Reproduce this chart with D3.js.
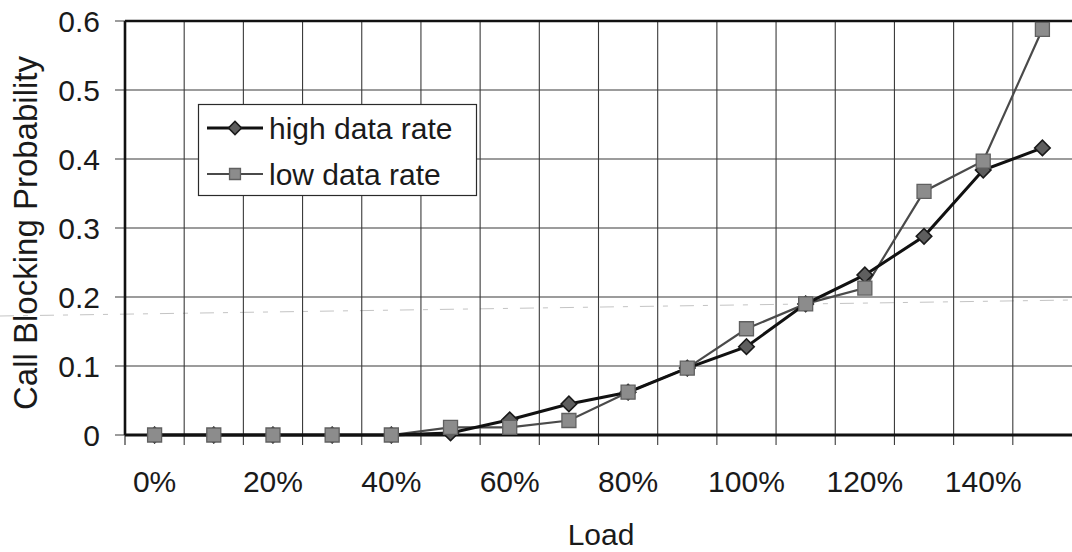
<!DOCTYPE html>
<html>
<head>
<meta charset="utf-8">
<script src="https://cdn.jsdelivr.net/npm/d3@7"></script>
<style>
  html, body { margin: 0; padding: 0; background: #fff; }
  svg { display: block; font-family: "Liberation Sans", Arial, sans-serif; }
</style>
</head>
<body>
<svg id="chart" width="1072" height="552"></svg>
<script>
// Load levels (categories) and blocking probability per series
const loads = ["0%","10%","20%","30%","40%","50%","60%","70%","80%","90%","100%","110%","120%","130%","140%","150%"];
const highRate = [0, 0, 0, 0, 0, 0.003, 0.022, 0.045, 0.062, 0.097, 0.128, 0.19, 0.232, 0.288, 0.384, 0.416];
const lowRate  = [0, 0, 0, 0, 0, 0.011, 0.011, 0.021, 0.062, 0.097, 0.154, 0.19, 0.213, 0.353, 0.397, 0.588];
const yTicks = [0, 0.1, 0.2, 0.3, 0.4, 0.5, 0.6];
const xLabels = ["0%","20%","40%","60%","80%","100%","120%","140%"];
const seriesNames = ["high data rate", "low data rate"];

const svg = d3.select("#chart");
const margin = { left: 125, right: 0, top: 21, bottom: 117 };
const W = 1072, H = 552;
const x0 = margin.left, x1 = W - margin.right, y0 = margin.top, y1 = H - margin.bottom;

const x = d3.scaleBand().domain(loads).range([x0, x1]).padding(0);
const y = d3.scaleLinear().domain([0, 0.6]).range([y1, y0]);
const cx = d => x(d) + x.bandwidth() / 2;

const FS = 30;
const textCol = "#1a1a1a";

// faint scanner streak across the sheet
svg.append("line")
  .attr("x1", 0).attr("y1", 316).attr("x2", W).attr("y2", 300)
  .attr("stroke", "#c4c4c4").attr("stroke-width", 1)
  .attr("stroke-dasharray", "14 9 5 12");

// vertical gridlines at category boundaries, extending as ticks below the axis
const bounds = loads.map(d => x(d)).concat([x1]);
svg.append("g").selectAll("line").data(bounds.slice(1, -1)).join("line")
  .attr("x1", d => d).attr("x2", d => d)
  .attr("y1", y0).attr("y2", y1 + 10)
  .attr("stroke", "#3a3a3a").attr("stroke-width", 1.1);
svg.append("line").attr("x1", x0).attr("x2", x0).attr("y1", y1).attr("y2", y1 + 10)
  .attr("stroke", "#222").attr("stroke-width", 1.1);

// horizontal gridlines, with ticks left of the axis
svg.append("g").selectAll("line").data(yTicks).join("line")
  .attr("x1", x0 - 10).attr("x2", x1)
  .attr("y1", d => y(d)).attr("y2", d => y(d))
  .attr("stroke", "#3a3a3a").attr("stroke-width", 1.1);

// frame: top, left and bottom axis lines
svg.append("line").attr("x1", x0).attr("x2", x1).attr("y1", y0).attr("y2", y0)
  .attr("stroke", "#111").attr("stroke-width", 2.6);
svg.append("line").attr("x1", x0).attr("x2", x0).attr("y1", y0).attr("y2", y1)
  .attr("stroke", "#111").attr("stroke-width", 2.6);
svg.append("line").attr("x1", x0).attr("x2", x1).attr("y1", y1).attr("y2", y1)
  .attr("stroke", "#111").attr("stroke-width", 2.8);

// y tick labels
svg.append("g").selectAll("text").data(yTicks).join("text")
  .attr("x", 100).attr("y", d => y(d))
  .attr("dy", "0.36em")
  .attr("text-anchor", "end")
  .attr("font-size", FS).attr("fill", textCol)
  .text(d => d === 0 ? "0" : d3.format(".1f")(d));

// x tick labels every other category
svg.append("g").selectAll("text").data(xLabels).join("text")
  .attr("x", d => cx(d)).attr("y", 492)
  .attr("text-anchor", "middle")
  .attr("font-size", FS).attr("fill", textCol)
  .text(d => d);

// axis titles
svg.append("text").attr("x", 601).attr("y", 545)
  .attr("text-anchor", "middle").attr("font-size", FS).attr("fill", textCol)
  .text("Load");
svg.append("text")
  .attr("transform", "translate(37, 233) rotate(-90)")
  .attr("text-anchor", "middle").attr("font-size", 33).attr("fill", textCol)
  .text("Call Blocking Probability");

// series lines
const line = d3.line().x((d, i) => cx(loads[i])).y(d => y(d));
svg.append("path").datum(lowRate).attr("d", line)
  .attr("fill", "none").attr("stroke", "#4a4a4a").attr("stroke-width", 2.2);
svg.append("path").datum(highRate).attr("d", line)
  .attr("fill", "none").attr("stroke", "#111").attr("stroke-width", 3);

// markers: diamond is a square turned 45 degrees
const diamond = d3.symbol().type(d3.symbolSquare).size(120);
const square = d3.symbol().type(d3.symbolSquare).size(196);
const diamondStyle = { fill: "#5e5e5e", stroke: "#1a1a1a", sw: 1.6 };
const squareStyle = { fill: "#8c8c8c", stroke: "#606060", sw: 1.3 };

svg.append("g").selectAll("path").data(highRate).join("path")
  .attr("d", diamond)
  .attr("transform", (d, i) => `translate(${cx(loads[i])},${y(d)}) rotate(45)`)
  .attr("fill", diamondStyle.fill).attr("stroke", diamondStyle.stroke).attr("stroke-width", diamondStyle.sw);
svg.append("g").selectAll("path").data(lowRate).join("path")
  .attr("d", square)
  .attr("transform", (d, i) => `translate(${cx(loads[i])},${y(d)})`)
  .attr("fill", squareStyle.fill).attr("stroke", squareStyle.stroke).attr("stroke-width", squareStyle.sw);

// legend
const lg = svg.append("g");
lg.append("rect").attr("x", 198.5).attr("y", 104.5).attr("width", 278).attr("height", 91)
  .attr("fill", "#fff").attr("stroke", "#2a2a2a").attr("stroke-width", 1.2);
const rows = [
  { name: seriesNames[0], yy: 128, stroke: "#111", sw: 3, sym: d3.symbol().type(d3.symbolSquare).size(85), rot: 45, st: diamondStyle },
  { name: seriesNames[1], yy: 174, stroke: "#4a4a4a", sw: 2.2, sym: d3.symbol().type(d3.symbolSquare).size(120), rot: 0, st: squareStyle }
];
rows.forEach(r => {
  lg.append("line").attr("x1", 207).attr("x2", 263).attr("y1", r.yy).attr("y2", r.yy)
    .attr("stroke", r.stroke).attr("stroke-width", r.sw);
  lg.append("path").attr("d", r.sym).attr("transform", `translate(235,${r.yy}) rotate(${r.rot})`)
    .attr("fill", r.st.fill).attr("stroke", r.st.stroke).attr("stroke-width", r.st.sw);
  lg.append("text").attr("x", 269).attr("y", r.yy).attr("dy", "0.36em")
    .attr("font-size", FS).attr("fill", textCol).text(r.name);
});
</script>
</body>
</html>
